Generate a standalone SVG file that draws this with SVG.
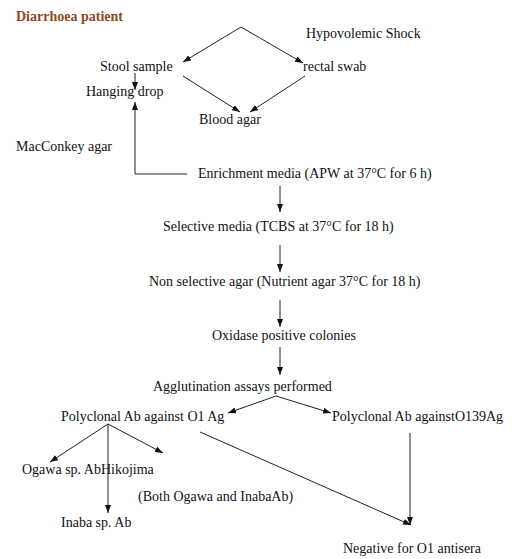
<svg xmlns="http://www.w3.org/2000/svg" width="512" height="559" viewBox="0 0 512 559">
<style>
text{font-family:"Liberation Serif","Times New Roman",serif;font-size:14px;fill:#111}
.t{font-weight:bold;fill:#8a4a24}
.c line,.c path{stroke:#222;stroke-width:1;fill:none}
</style>
<defs>
<marker id="a" viewBox="0 0 8 6" refX="8" refY="3" markerWidth="8" markerHeight="6" markerUnits="userSpaceOnUse" orient="auto"><path d="M0,0L8,3L0,6z" fill="#111"/></marker>
</defs>
<rect width="512" height="559" fill="#fff"/>
<g class="c">
<line x1="241" y1="27" x2="183" y2="62" marker-end="url(#a)"/>
<line x1="241" y1="27" x2="303" y2="63" marker-end="url(#a)"/>
<line x1="135" y1="73" x2="135" y2="90" marker-end="url(#a)"/>
<path d="M187,174H135V102" marker-end="url(#a)"/>
<line x1="183" y1="76" x2="240" y2="112" marker-end="url(#a)"/>
<line x1="305" y1="76" x2="250" y2="112" marker-end="url(#a)"/>
<line x1="280" y1="186" x2="280" y2="212" marker-end="url(#a)"/>
<line x1="280" y1="245" x2="280" y2="272" marker-end="url(#a)"/>
<line x1="280" y1="300" x2="280" y2="327" marker-end="url(#a)"/>
<line x1="280" y1="347" x2="280" y2="375" marker-end="url(#a)"/>
<line x1="276" y1="396" x2="228" y2="413" marker-end="url(#a)"/>
<line x1="276" y1="396" x2="331" y2="413" marker-end="url(#a)"/>
<line x1="108" y1="424" x2="50" y2="462" marker-end="url(#a)"/>
<line x1="108" y1="424" x2="163" y2="453" marker-end="url(#a)"/>
<line x1="108" y1="424" x2="108" y2="513" marker-end="url(#a)"/>
<line x1="200" y1="432" x2="411" y2="525" marker-end="url(#a)"/>
<line x1="410" y1="433" x2="410" y2="525" marker-end="url(#a)"/>
</g>
<g id="title"><text class="t" x="16" y="21">Diarrhoea patient</text></g>
<g id="hypo"><text x="306" y="38">Hypovolemic Shock</text></g>
<g id="stool"><text x="100" y="71">Stool sample</text></g>
<g id="rectal"><text x="303" y="71">rectal swab</text></g>
<g id="hanging"><text x="86" y="96">Hanging drop</text></g>
<g id="blood"><text x="199" y="124">Blood agar</text></g>
<g id="macconkey"><text x="16" y="151">MacConkey agar</text></g>
<g id="enrich"><text x="198" y="178">Enrichment media (APW at 37°C for 6 h)</text></g>
<g id="selective"><text x="163" y="231">Selective media (TCBS at 37°C for 18 h)</text></g>
<g id="nonsel"><text x="149" y="286">Non selective agar (Nutrient agar 37°C for 18 h)</text></g>
<g id="oxidase"><text x="212" y="340">Oxidase positive colonies</text></g>
<g id="agglut"><text x="153" y="391">Agglutination assays performed</text></g>
<g id="polyO1"><text x="61" y="421">Polyclonal Ab against O1 Ag</text></g>
<g id="polyO139"><text x="332" y="421">Polyclonal Ab againstO139Ag</text></g>
<g id="ogawa"><text x="22" y="474">Ogawa sp. AbHikojima</text></g>
<g id="both"><text x="138" y="501">(Both Ogawa and InabaAb)</text></g>
<g id="inaba"><text x="61" y="527">Inaba sp. Ab</text></g>
<g id="negative"><text x="343" y="553">Negative for O1 antisera</text></g>
</svg>
